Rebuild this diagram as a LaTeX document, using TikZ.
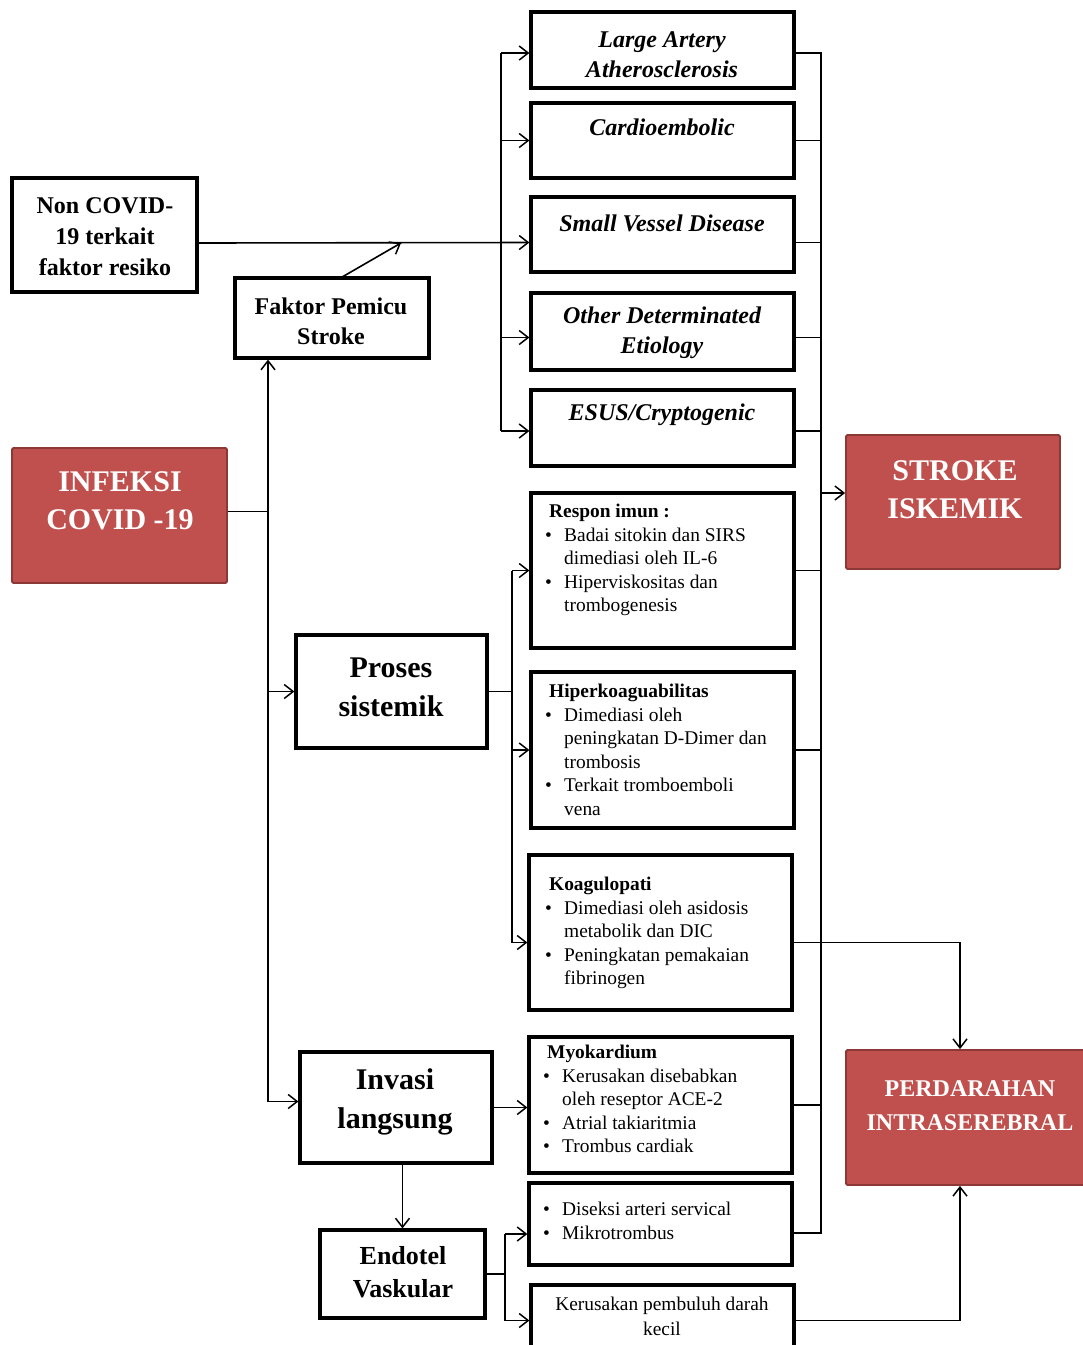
\documentclass[tikz,border=0pt]{standalone}
\usepackage{fontspec}
\setmainfont{Liberation Serif}
\usetikzlibrary{arrows.meta,fit}
\definecolor{redfill}{HTML}{C0504D}
\definecolor{redline}{HTML}{8C3836}
\newcommand{\bi}[1]{\makebox[19pt][l]{\textbullet}#1}
\newcommand{\ci}[1]{\hspace*{19pt}#1}
\tikzset{
  box/.style={draw, line width=3.2pt, inner sep=0pt},
  redbox/.style={draw=redline, line width=1.8pt, fill=redfill, inner sep=0pt, rounded corners=1.5pt},
  conn/.style={line width=1.6pt},
  arr/.style={conn, -{Straight Barb[length=9pt,width=14pt,line width=1.5pt]}},
  ttl/.style={font=\fontsize{24}{30}\selectfont\bfseries\itshape, align=center, inner sep=0pt},
  btxt/.style={font=\fontsize{24}{31}\selectfont\bfseries, align=center, inner sep=0pt},
  bigtxt/.style={font=\fontsize{30}{39}\selectfont\bfseries, align=center, inner sep=0pt},
  redtxt/.style={font=\fontsize{30}{38}\selectfont\bfseries, text=white, align=center, inner sep=0pt},
  lst/.style={font=\fontsize{19.4}{23.5}\selectfont, align=left, anchor=north west, inner sep=0pt},
}
\begin{document}
\begin{tikzpicture}[x=1pt,y=-1pt]
\useasboundingbox (0,0) rectangle (1083,1345);
\fill[white] (0,0) rectangle (1083,1345);
\clip (0,0) rectangle (1083,1345);

% ---- boxes ----
\node[box, fit={(12,178) (197,292)}] (noncovid) {};
\node[box, fit={(235,278) (429,358)}] (faktor) {};
\node[redbox, fit={(12,448) (227,583)}] (infeksi) {};
\node[box, fit={(531,12) (794,88)}] (la) {};
\node[box, fit={(531,103) (794,178)}] (cardio) {};
\node[box, fit={(531,197) (794,272)}] (svd) {};
\node[box, fit={(531,293) (794,370)}] (other) {};
\node[box, fit={(531,390) (794,466)}] (esus) {};
\node[redbox, fit={(846,435) (1060,569)}] (stroke) {};
\node[box, fit={(531,493) (794,648)}] (respon) {};
\node[box, fit={(296,635) (487,748)}] (proses) {};
\node[box, fit={(531,672) (794,828)}] (hiper) {};
\node[box, fit={(529,855) (792,1010)}] (koag) {};
\node[box, fit={(529,1037) (792,1173)}] (myo) {};
\node[box, fit={(300,1052) (492,1163)}] (invasi) {};
\node[box, fit={(529,1183) (792,1265)}] (diseksi) {};
\node[box, fit={(320,1230) (485,1318)}] (endotel) {};
\node[box, fit={(531,1285) (794,1356)}] (kerus) {};
\node[redbox, fit={(846,1050) (1092,1185)}] (perd) {};

% ---- texts ----
\node[btxt] (noncovid-t) at (105,237) {Non COVID-\\19 terkait\\faktor resiko};
\node[btxt, font=\fontsize{24}{30}\selectfont\bfseries] (faktor-t) at (331,321) {Faktor Pemicu\\Stroke};
\node[redtxt] (infeksi-t) at (120,501) {INFEKSI\\COVID -19};
\node[ttl] (la-t) at (662,55) {Large Artery\\Atherosclerosis};
\node[ttl] (cardio-t) at (662,127) {Cardioembolic};
\node[ttl] (svd-t) at (662,223) {Small Vessel Disease};
\node[ttl] (other-t) at (662,333) {Other Determinated\\Etiology};
\node[ttl] (esus-t) at (662,415) {ESUS/Cryptogenic};
\node[redtxt] (stroke-t) at (955,490) {STROKE\\ISKEMIK};
\node[bigtxt] (proses-t) at (391,687) {Proses\\sistemik};
\node[bigtxt] (invasi-t) at (395,1102) {Invasi\\langsung};
\node[btxt, font=\fontsize{26}{33}\selectfont\bfseries] (endotel-t) at (403,1272) {Endotel\\Vaskular};
\node[redtxt, font=\fontsize{24}{34}\selectfont\bfseries] (perd-t) at (970,1106) {PERDARAHAN\\INTRASEREBRAL};
\node[inner sep=0pt, align=center, font=\fontsize{19.4}{25}\selectfont] (kerus-t) at (662,1316) {Kerusakan pembuluh darah\\kecil};

\node[lst] (respon-t) at (545,504) {\hspace*{4pt}\textbf{Respon imun :}\\
\bi{Badai sitokin dan SIRS}\\
\ci{dimediasi oleh IL-6}\\
\bi{Hiperviskositas dan}\\
\ci{trombogenesis}};
\node[lst] (hiper-t) at (545,684) {\hspace*{4pt}\textbf{Hiperkoaguabilitas}\\
\bi{Dimediasi oleh}\\
\ci{peningkatan D-Dimer dan}\\
\ci{trombosis}\\
\bi{Terkait tromboemboli}\\
\ci{vena}};
\node[lst] (koag-t) at (545,877) {\hspace*{4pt}\textbf{Koagulopati}\\
\bi{Dimediasi oleh asidosis}\\
\ci{metabolik dan DIC}\\
\bi{Peningkatan pemakaian}\\
\ci{fibrinogen}};
\node[lst] (myo-t) at (543,1045) {\hspace*{4pt}\textbf{Myokardium}\\
\bi{Kerusakan disebabkan}\\
\ci{oleh reseptor ACE-2}\\
\bi{Atrial takiaritmia}\\
\bi{Trombus cardiak}};
\node[lst] (diseksi-t) at (543,1202) {\bi{Diseksi arteri servical}\\
\bi{Mikrotrombus}};

% ---- bus coordinates ----
\coordinate (tl) at (268,0);
\coordinate (lb) at (501,0);
\coordinate (rb) at (821,0);
\coordinate (pb) at (512,0);
\coordinate (eb) at (505,0);
\coordinate (dg) at (401,243);

% ---- left trunk from INFEKSI ----
\draw[conn] ([yshift=4pt]infeksi.east) -- ([yshift=4pt]infeksi.east -| tl);
\draw[arr] ([yshift=6pt]tl |- invasi.west) -- (tl |- faktor.south);
\draw[arr] (tl |- proses.west) -- (proses.west);
\draw[arr] ([yshift=6pt]tl |- invasi.west) -- ([yshift=6pt]invasi.west);

% ---- non covid and faktor ----
\draw[arr] ([yshift=-8pt]noncovid.east) -- ([yshift=-8pt]svd.west);
\draw[arr] ([xshift=6pt,yshift=-3pt]faktor.north) -- (dg);

% ---- branch to ischemic subtypes ----
\draw[conn] ([yshift=-3pt]lb |- la.west) -- ([yshift=-3pt]lb |- esus.west);
\draw[arr] ([yshift=-3pt]lb |- la.west) -- ([yshift=-3pt]la.west);
\draw[arr] (lb |- cardio.west) -- (cardio.west);
\draw[arr] ([yshift=-6pt]lb |- other.west) -- ([yshift=-6pt]other.west);
\draw[arr] ([yshift=-3pt]lb |- esus.west) -- ([yshift=-3pt]esus.west);

% ---- right bus to STROKE ISKEMIK ----
\draw[conn] ([yshift=-3pt]la.east) -- ([yshift=-3pt]la.east -| rb) -- ([yshift=-9pt]diseksi.east -| rb) -- ([yshift=-9pt]diseksi.east);
\draw[conn] (cardio.east) -- (cardio.east -| rb);
\draw[conn] ([yshift=-8pt]svd.east) -- ([yshift=-8pt]svd.east -| rb);
\draw[conn] ([yshift=-6pt]other.east) -- ([yshift=-6pt]other.east -| rb);
\draw[conn] ([yshift=-3pt]esus.east) -- ([yshift=-3pt]esus.east -| rb);
\draw[conn] (respon.east) -- (respon.east -| rb);
\draw[conn] (hiper.east) -- (hiper.east -| rb);
\draw[conn] (myo.east) -- (myo.east -| rb);
\draw[arr] ([yshift=9pt]rb |- stroke.west) -- ([yshift=9pt]stroke.west);

% ---- proses sistemik ----
\draw[conn] (proses.east) -- (proses.east -| pb);
\draw[conn] (pb |- respon.west) -- ([yshift=-10pt]pb |- koag.west);
\draw[arr] (pb |- respon.west) -- (respon.west);
\draw[arr] (pb |- hiper.west) -- (hiper.west);
\draw[arr] ([yshift=-10pt]pb |- koag.west) -- ([yshift=-10pt]koag.west);

% ---- to PERDARAHAN ----
\draw[arr] ([yshift=-10pt]koag.east) -| ([xshift=-9pt]perd.north);
\draw[arr] (kerus.east) -| ([xshift=-9pt]perd.south);

% ---- invasi langsung ----
\draw[arr] (invasi.east) -- (invasi.east -| myo.west);
\draw[arr] (endotel.north |- invasi.south) -- (endotel.north);
\draw[conn] (endotel.east) -- (endotel.east -| eb);
\draw[conn] ([yshift=-10pt]eb |- diseksi.west) -- (eb |- kerus.west);
\draw[arr] ([yshift=-10pt]eb |- diseksi.west) -- ([yshift=-10pt]diseksi.west);
\draw[arr] (eb |- kerus.west) -- (kerus.west);
\end{tikzpicture}
\end{document}
